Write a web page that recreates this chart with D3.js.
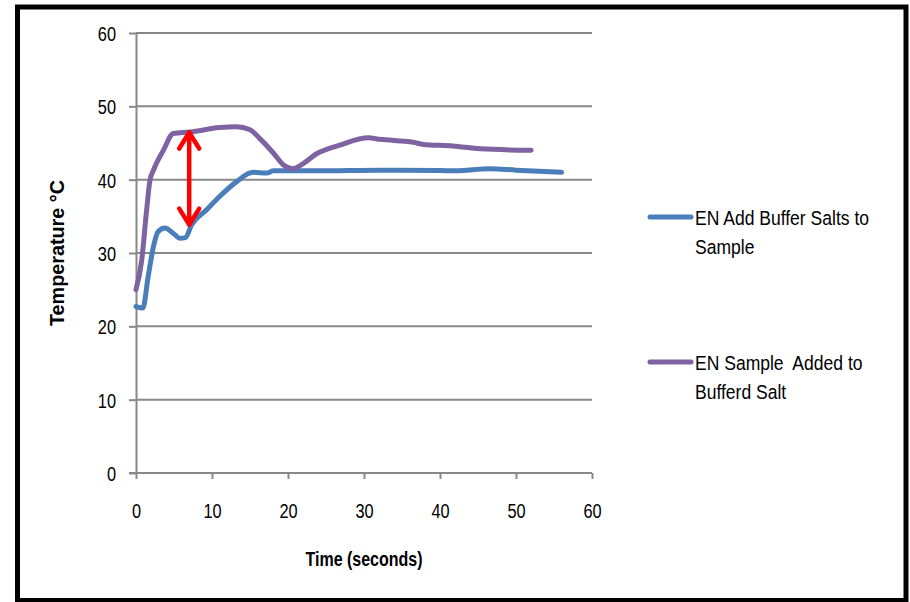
<!DOCTYPE html>
<html>
<head>
<meta charset="utf-8">
<script src="https://cdn.jsdelivr.net/npm/d3@7"></script>
<style>
  html, body { margin: 0; padding: 0; background: #fff; }
  svg { display: block; }
  text { font-family: "Liberation Sans", Arial, sans-serif; fill: #000; }
</style>
</head>
<body>
<svg id="chart" width="910" height="602"></svg>
<script>
// ---- data ----
const xTicks = [0, 10, 20, 30, 40, 50, 60];
const yTicks = [0, 10, 20, 30, 40, 50, 60];

const bufferTime = [0, 0.9, 1.6, 2.3, 2.9, 3.8, 5, 5.8, 6.5, 7.3, 9.3, 11, 13.2, 15.4, 17.2, 18.1, 24, 32, 40, 42, 46.5, 50, 56];
const bufferTemp = [22.7, 22.5, 26.8, 30.9, 32.9, 33.4, 32.6, 32.0, 32.1, 33.8, 35.9, 37.7, 39.7, 41.0, 40.9, 41.2, 41.2, 41.3, 41.25, 41.2, 41.5, 41.3, 41.0];

const sampleTime = [0, 0.75, 1.4, 1.85, 2.3, 3.6, 4.9, 7.1, 11, 13.2, 15, 16.3, 18.1, 19.4, 20.6, 22, 23.7, 26.8, 30.6, 32.1, 36.5, 37.8, 41.7, 45.3, 52];
const sampleTemp = [25.0, 29.0, 35.9, 40.0, 41.3, 44.0, 46.3, 46.5, 47.1, 47.2, 46.8, 45.6, 43.6, 42.0, 41.5, 42.2, 43.5, 44.7, 45.7, 45.5, 45.1, 44.8, 44.6, 44.2, 44.0];

const seriesNames = ["EN Add Buffer Salts to|Sample", "EN Sample  Added to|Bufferd Salt"];
const seriesColors = ["#4A7EBB", "#7E62A1"];

// annotation arrow (time, temperature range)
const arrowTime = 7.0;
const arrowTemps = [46.7, 33.6];

// ---- drawing ----
const svg = d3.select("#chart");
const x = d3.scaleLinear().domain([0, 60]).range([136, 592]);
const y = d3.scaleLinear().domain([0, 60]).range([473, 33]);
const gridColor = "#888888";
const SX_TICK = 0.78, SX_LEG = 0.855;

// outer frame
svg.append("rect").attr("x", 17.5).attr("y", 7).attr("width", 888.5).attr("height", 593.5)
  .attr("fill", "none").attr("stroke", "#000").attr("stroke-width", 5);

// gridlines
svg.append("g").selectAll("line").data(yTicks.filter(d => d > 0)).join("line")
  .attr("x1", x(0)).attr("x2", x(60)).attr("y1", d => y(d)).attr("y2", d => y(d))
  .attr("stroke", gridColor).attr("stroke-width", 2);

// y axis
const yAxis = svg.append("g").attr("transform", `translate(${x(0)},0)`)
  .call(d3.axisLeft(y).tickValues(yTicks).tickSize(7).tickSizeOuter(0));
// x axis
const xAxis = svg.append("g").attr("transform", `translate(0,${y(0)})`)
  .call(d3.axisBottom(x).tickValues(xTicks).tickSize(6).tickSizeOuter(0));
[yAxis, xAxis].forEach(a => {
  a.select(".domain").attr("stroke", gridColor).attr("stroke-width", 2);
  a.selectAll(".tick line").attr("stroke", gridColor).attr("stroke-width", 2);
  a.selectAll(".tick text").attr("font-size", 21)
    .attr("font-family", '"Liberation Sans", Arial, sans-serif').attr("fill", "#000");
});
yAxis.selectAll(".tick text").attr("x", -20 / SX_TICK).attr("dy", "0.36em")
  .attr("transform", `scale(${SX_TICK},1)`);
xAxis.selectAll(".tick text").attr("y", 45).attr("dy", "0")
  .attr("transform", `scale(${SX_TICK},1)`);
xAxis.select(".domain").attr("d", `M${x(0) - 7},0H${x(60)}`);

// lines
const line = d3.line().x(d => x(d[0])).y(d => y(d[1])).curve(d3.curveMonotoneX);
const series = [
  d3.zip(bufferTime, bufferTemp),
  d3.zip(sampleTime, sampleTemp)
];
svg.append("g").selectAll("path").data(series).join("path")
  .attr("d", line).attr("fill", "none")
  .attr("stroke", (d, i) => seriesColors[i]).attr("stroke-width", 5)
  .attr("stroke-linejoin", "round").attr("stroke-linecap", "round");

// red double arrow
const ax = x(arrowTime), ay1 = y(arrowTemps[0]), ay2 = y(arrowTemps[1]);
const arrow = svg.append("g").attr("stroke", "#FF0000").attr("stroke-width", 4.5)
  .attr("fill", "none").attr("stroke-linecap", "round").attr("stroke-linejoin", "round");
arrow.append("line").attr("x1", ax).attr("x2", ax).attr("y1", ay1 + 2).attr("y2", ay2 - 2);
arrow.append("path").attr("d", `M${ax - 10},${ay1 + 18}L${ax},${ay1 + 2}L${ax + 10},${ay1 + 18}`);
arrow.append("path").attr("d", `M${ax - 10},${ay2 - 18}L${ax},${ay2 - 2}L${ax + 10},${ay2 - 18}`);

// axis titles
svg.append("text").attr("x", 364).attr("y", 566).attr("text-anchor", "middle")
  .attr("font-size", 19.5).attr("font-weight", "bold")
  .attr("textLength", 117).attr("lengthAdjust", "spacingAndGlyphs").text("Time (seconds)");
svg.append("text").attr("transform", "translate(64,253) rotate(-90)").attr("text-anchor", "middle")
  .attr("font-size", 19.5).attr("font-weight", "bold")
  .attr("textLength", 146).attr("lengthAdjust", "spacingAndGlyphs").text("Temperature °C");

// legend
const legendY = [217, 362];
const lg = svg.append("g").selectAll("g").data(seriesNames).join("g")
  .attr("transform", (d, i) => `translate(650,${legendY[i]})`);
lg.append("line").attr("x1", 0).attr("x2", 41).attr("y1", 0).attr("y2", 0)
  .attr("stroke", (d, i) => seriesColors[i]).attr("stroke-width", 5).attr("stroke-linecap", "round");
lg.append("text").attr("transform", `translate(45,8) scale(${SX_LEG},1)`).attr("font-size", 20.5)
  .selectAll("tspan").data(d => d.split("|")).join("tspan")
  .attr("x", 0).attr("dy", (d, i) => i === 0 ? 0 : 29).attr("xml:space", "preserve").text(d => d);
</script>
</body>
</html>
